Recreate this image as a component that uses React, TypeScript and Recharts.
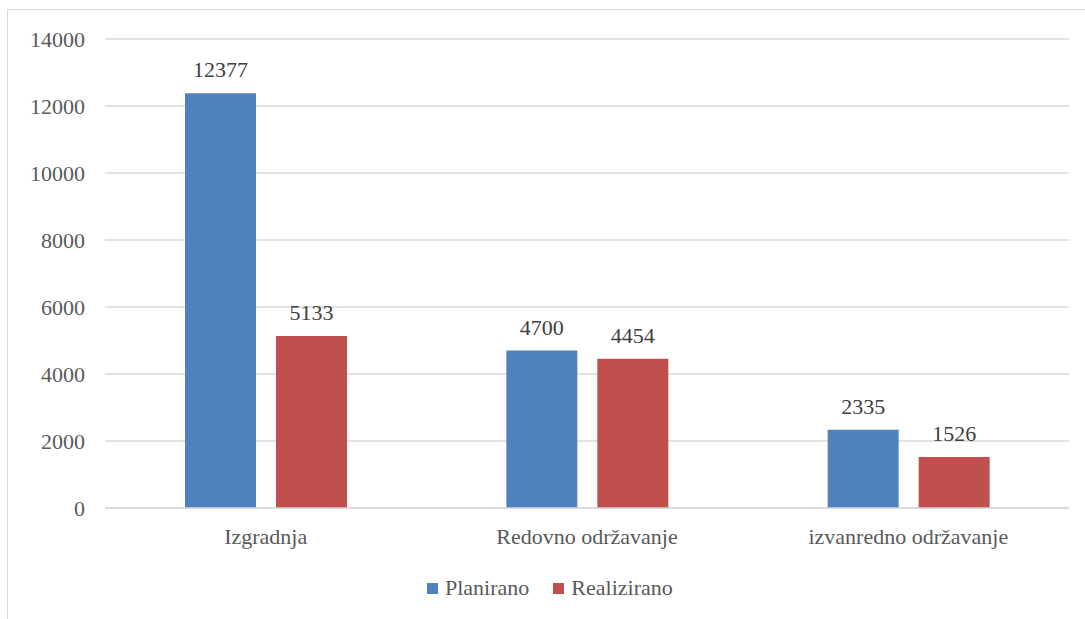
import { BarChart, Bar, XAxis, YAxis, CartesianGrid, LabelList } from "recharts";

const categories = ["Izgradnja", "Redovno održavanje", "izvanredno održavanje"];
const planirano = [12377, 4700, 2335];
const realizirano = [5133, 4454, 1526];
const yTicks = [0, 2000, 4000, 6000, 8000, 10000, 12000, 14000];

const series = [
  { key: "planirano", name: "Planirano", color: "#4F81BD" },
  { key: "realizirano", name: "Realizirano", color: "#C0504D" },
];

const data = categories.map((name, i) => ({
  name,
  planirano: planirano[i],
  realizirano: realizirano[i],
}));

const font = "Liberation Serif, Times New Roman, Times, DejaVu Serif, serif";
const textColor = "#595959";

export default function App() {
  return (
    <div
      style={{
        position: "absolute",
        left: 0,
        top: 0,
        width: 1085,
        height: 619,
        overflow: "hidden",
        background: "#fff",
        fontFamily: font,
      }}
    >
      <div
        style={{
          position: "absolute",
          left: 7,
          top: 9,
          width: 1200,
          height: 800,
          border: "1px solid #d9d9d9",
        }}
      />
      <div style={{ position: "absolute", left: 0, top: 0 }}>
        <BarChart
          width={1085}
          height={619}
          data={data}
          margin={{ top: 39, right: 16, left: 0, bottom: 0 }}
          barSize={71}
          barGap={20}
        >
          <CartesianGrid vertical={false} stroke="#d9d9d9" strokeWidth={1.5} />
          <XAxis
            dataKey="name"
            tickLine={false}
            axisLine={{ stroke: "#d9d9d9", strokeWidth: 1.5 }}
            tickMargin={14}
            height={111}
            tick={{ fill: textColor, fontSize: 22, fontFamily: font }}
          />
          <YAxis
            width={105}
            domain={[0, 14000]}
            ticks={yTicks}
            tickLine={false}
            axisLine={false}
            tickMargin={14}
            tick={{ fill: textColor, fontSize: 22, fontFamily: font }}
          />
          {series.map((s) => (
            <Bar key={s.key} dataKey={s.key} name={s.name} fill={s.color} isAnimationActive={false}>
              <LabelList
                dataKey={s.key}
                position="top"
                offset={16}
                fill="#404040"
                fontSize={22}
                fontFamily={font}
              />
            </Bar>
          ))}
        </BarChart>
      </div>
      <div
        style={{
          position: "absolute",
          left: 427,
          top: 577,
          height: 22,
          display: "flex",
          alignItems: "center",
          fontSize: 22,
          color: textColor,
          whiteSpace: "nowrap",
        }}
      >
        {series.map((s, i) => (
          <div key={s.key} style={{ display: "flex", alignItems: "center", marginRight: i === 0 ? 24 : 0 }}>
            <div style={{ width: 11, height: 11, background: s.color, marginRight: 7 }} />
            <span>{s.name}</span>
          </div>
        ))}
      </div>
    </div>
  );
}
